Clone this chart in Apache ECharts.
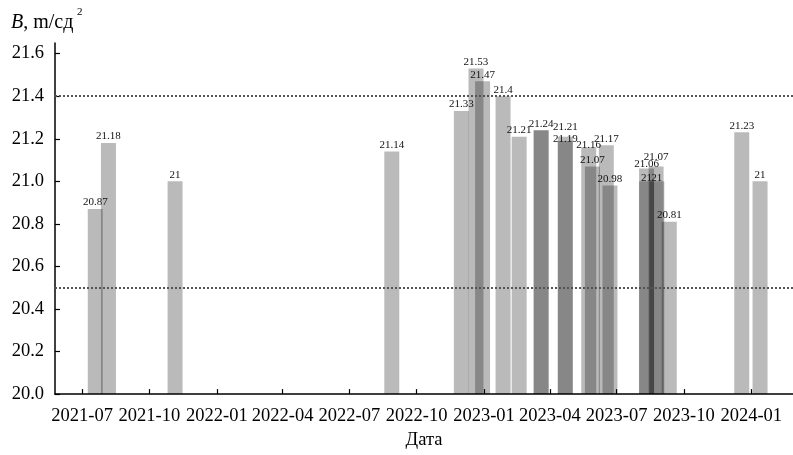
<!DOCTYPE html>
<html>
<head>
<meta charset="utf-8">
<script src="https://cdn.jsdelivr.net/npm/echarts@6/dist/echarts.min.js"></script>
<style>
  html, body { margin: 0; padding: 0; background: #fff; }
  #chart { width: 793px; height: 455px; }
</style>
</head>
<body>
<div id="chart"></div>
<script>
// Measurement dates and measured values of B, m/сд²
const dates = [
  '2021-07-19', '2021-08-06', '2021-11-05', '2022-08-28',
  '2022-12-01', '2022-12-21', '2022-12-30',
  '2023-01-27', '2023-02-18', '2023-03-20', '2023-03-20',
  '2023-04-22', '2023-04-22',
  '2023-05-24', '2023-05-29', '2023-06-17', '2023-06-22',
  '2023-08-11', '2023-08-11', '2023-08-24', '2023-08-25',
  '2023-09-11', '2023-12-19', '2024-01-13'
];
const values = [
  20.87, 21.18, 21, 21.14,
  21.33, 21.53, 21.47,
  21.4, 21.21, 21.24, 21.24,
  21.21, 21.19,
  21.16, 21.07, 21.17, 20.98,
  21.06, 21, 21.07, 21,
  20.81, 21.23, 21
];
// Small vertical nudges so crowded value labels stay readable
const labelDy = [
  0, 0, 0, 0,
  0, 0, 0,
  0, 0, 0, 0,
  -3, 5,
  4, 0, 0, 0,
  2, 3, -3, 3,
  0, 0, 0
];
// Reference levels (dotted lines)
const refLevels = [21.4, 20.5];
// Axis ticks
const xTickLabels = ['2021-07', '2021-10', '2022-01', '2022-04', '2022-07', '2022-10',
                     '2023-01', '2023-04', '2023-07', '2023-10', '2024-01'];
const yTicks = [20.0, 20.2, 20.4, 20.6, 20.8, 21.0, 21.2, 21.4, 21.6];

const SERIF = '"Liberation Serif", "DejaVu Serif", serif';

function toTime(str) {
  const p = str.split('-').map(Number);
  return new Date(p[0], p[1] - 1, p[2] || 1).getTime();
}
const xTickValues = xTickLabels.map(toTime);

const chart = echarts.init(document.getElementById('chart'), null, { renderer: 'canvas' });

// One bar per measurement; a repeated (date, value) pair only gets one label
const barData = dates.map((d, i) => {
  const repeated = dates.slice(0, i).some((pd, j) => pd === d && values[j] === values[i]);
  return {
    value: [toTime(d), values[i]],
    label: { show: !repeated, offset: [0, labelDy[i]] }
  };
});

chart.setOption({
  animation: false,
  backgroundColor: '#ffffff',
  grid: { left: 55, right: 0, top: 43, bottom: 52.5, containLabel: false },
  xAxis: {
    type: 'value',
    min: toTime('2021-05-25'),
    max: toTime('2024-02-27'),
    name: 'Дата',
    nameLocation: 'middle',
    nameGap: 34,
    nameTextStyle: { fontFamily: SERIF, fontSize: 18.5, color: '#000' },
    axisLine: { show: true, onZero: false, lineStyle: { color: '#000', width: 1.5 } },
    axisTick: { show: true, inside: true, length: 5, customValues: xTickValues,
                lineStyle: { color: '#000', width: 1.2 } },
    axisLabel: {
      customValues: xTickValues,
      margin: 13,
      fontFamily: SERIF, fontSize: 18.5, color: '#000',
      formatter: function (v) {
        const i = xTickValues.indexOf(v);
        return i >= 0 ? xTickLabels[i] : '';
      }
    },
    splitLine: { show: false }
  },
  yAxis: {
    type: 'value',
    min: 20,
    max: 21.65,
    interval: 0.2,
    axisLine: { show: true, lineStyle: { color: '#000', width: 1.5 } },
    axisTick: { show: true, inside: true, length: 5, customValues: yTicks,
                lineStyle: { color: '#000', width: 1.2 } },
    axisLabel: {
      customValues: yTicks,
      margin: 11,
      fontFamily: SERIF, fontSize: 18.5, color: '#000',
      formatter: v => Number(v).toFixed(1)
    },
    splitLine: { show: false }
  },
  series: [{
    type: 'bar',
    data: barData,
    barWidth: 15,
    itemStyle: { color: 'rgba(0,0,0,0.27)' },
    label: {
      show: true,
      position: 'top',
      distance: 1,
      fontFamily: SERIF,
      fontSize: 11,
      color: '#111',
      formatter: p => String(p.value[1])
    },
    markLine: {
      silent: true,
      symbol: ['none', 'none'],
      label: { show: false },
      lineStyle: { color: '#555', width: 2, type: [2, 2] },
      data: refLevels.map(v => ({ yAxis: v }))
    },
    z: 2
  }],
  graphic: [
    {
      type: 'text',
      left: 11,
      top: 13,
      style: {
        text: '{i|B}, m/сд',
        fontFamily: SERIF,
        fontSize: 20,
        fill: '#000',
        rich: { i: { fontFamily: SERIF, fontSize: 20, fontStyle: 'italic' } }
      }
    },
    {
      type: 'text',
      left: 77,
      top: 7,
      style: { text: '2', fontFamily: SERIF, fontSize: 11, fill: '#000' }
    }
  ]
});
</script>
</body>
</html>
